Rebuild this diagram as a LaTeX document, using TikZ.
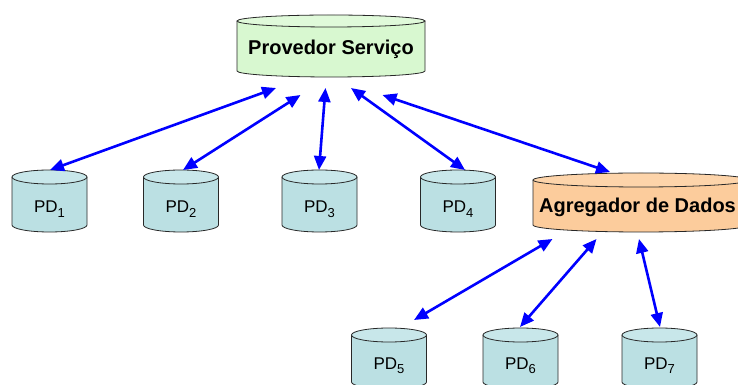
\documentclass[tikz,border=0pt]{standalone}
\usepackage{fontspec}
\setmainfont{Liberation Sans}
\usetikzlibrary{arrows.meta}
\definecolor{pdblue}{RGB}{187,224,227}
\definecolor{pdtop}{RGB}{200,231,234}
\definecolor{provgreen}{RGB}{216,248,208}
\definecolor{provtop}{RGB}{224,250,218}
\definecolor{agorange}{RGB}{252,204,156}
\definecolor{agtop}{RGB}{253,212,170}
\definecolor{cylline}{RGB}{40,40,40}
\newcommand{\mycyl}[7]{%
  % #1 cx, #2 top y, #3 bottom y, #4 rx, #5 ry, #6 body fill, #7 top fill
  \fill[#6] (#1pt-#4pt,#2pt) -- (#1pt-#4pt,#3pt)
    arc[start angle=180,end angle=360,x radius=#4pt,y radius=#5pt]
    -- (#1pt+#4pt,#2pt)
    arc[start angle=0,end angle=180,x radius=#4pt,y radius=#5pt] -- cycle;
  \draw[cyledge] (#1pt-#4pt,#2pt) -- (#1pt-#4pt,#3pt)
    arc[start angle=180,end angle=360,x radius=#4pt,y radius=#5pt]
    -- (#1pt+#4pt,#2pt);
  \draw[cyledge,fill=#7] (#1pt,#2pt) ellipse[x radius=#4pt,y radius=#5pt];
}
\newcommand{\pdsub}[1]{PD\raisebox{-5pt}{\fontsize{13}{14}\selectfont #1}}
\tikzset{
  cyledge/.style={draw=cylline,line width=0.8pt},
  pdlabel/.style={font=\fontsize{17}{20}\selectfont,inner sep=0pt,anchor=base},
  biglabel/.style={font=\fontsize{20}{24}\selectfont\bfseries,inner sep=0pt},
  arr/.style={draw={rgb,255:red,0;green,0;blue,255},line width=2.6pt,
    {Triangle[length=14pt,width=12pt]}-{Triangle[length=14pt,width=12pt]}}
}
\begin{document}
\begin{tikzpicture}[x=1pt,y=1pt]
\useasboundingbox (0,0) rectangle (738,385);
\clip (0,0) rectangle (738,385);
% cylinders
\mycyl{331}{364}{314}{94}{6}{provgreen}{provtop}
\mycyl{49.5}{208}{160}{37.5}{7}{pdblue}{pdtop}
\mycyl{181}{208}{160}{37.5}{7}{pdblue}{pdtop}
\mycyl{319.5}{208}{160}{37.5}{7}{pdblue}{pdtop}
\mycyl{458}{208}{160}{37.5}{7}{pdblue}{pdtop}
\mycyl{641}{205}{160}{108}{7}{agorange}{agtop}
\mycyl{389}{50}{3}{37.5}{7}{pdblue}{pdtop}
\mycyl{520.5}{50}{3}{37.5}{7}{pdblue}{pdtop}
\mycyl{659.5}{50}{3}{37.5}{7}{pdblue}{pdtop}
% labels
\node[biglabel] (prov) at (331,336) {Provedor Serviço};
\node[biglabel] (agreg) at (637.5,178) {Agregador de Dados};
\node[pdlabel] (pd1) at (49.5,172) {\pdsub{1}};
\node[pdlabel] (pd2) at (181,172) {\pdsub{2}};
\node[pdlabel] (pd3) at (319.5,172) {\pdsub{3}};
\node[pdlabel] (pd4) at (458,172) {\pdsub{4}};
\node[pdlabel] (pd5) at (389,16) {\pdsub{5}};
\node[pdlabel] (pd6) at (520.5,16) {\pdsub{6}};
\node[pdlabel] (pd7) at (659.5,16) {\pdsub{7}};
% connector end points
\coordinate (p1) at (276,297);
\coordinate (p2) at (300.5,290);
\coordinate (p3) at (325.5,297);
\coordinate (p4) at (351,297);
\coordinate (p5) at (382.5,290);
\coordinate (t1) at (50,215);
\coordinate (t2) at (183,215);
\coordinate (t3) at (319,215);
\coordinate (t4) at (465,215);
\coordinate (t5) at (610,213);
\coordinate (a5) at (552.5,146);
\coordinate (a6) at (596.5,146);
\coordinate (a7) at (639,146);
\coordinate (b5) at (414,65);
\coordinate (b6) at (520,58);
\coordinate (b7) at (660,58);
% connectors
\draw[arr] (t1) -- (p1);
\draw[arr] (t2) -- (p2);
\draw[arr] (t3) -- (p3);
\draw[arr] (t4) -- (p4);
\draw[arr] (t5) -- (p5);
\draw[arr] (b5) -- (a5);
\draw[arr] (b6) -- (a6);
\draw[arr] (b7) -- (a7);
\end{tikzpicture}
\end{document}
